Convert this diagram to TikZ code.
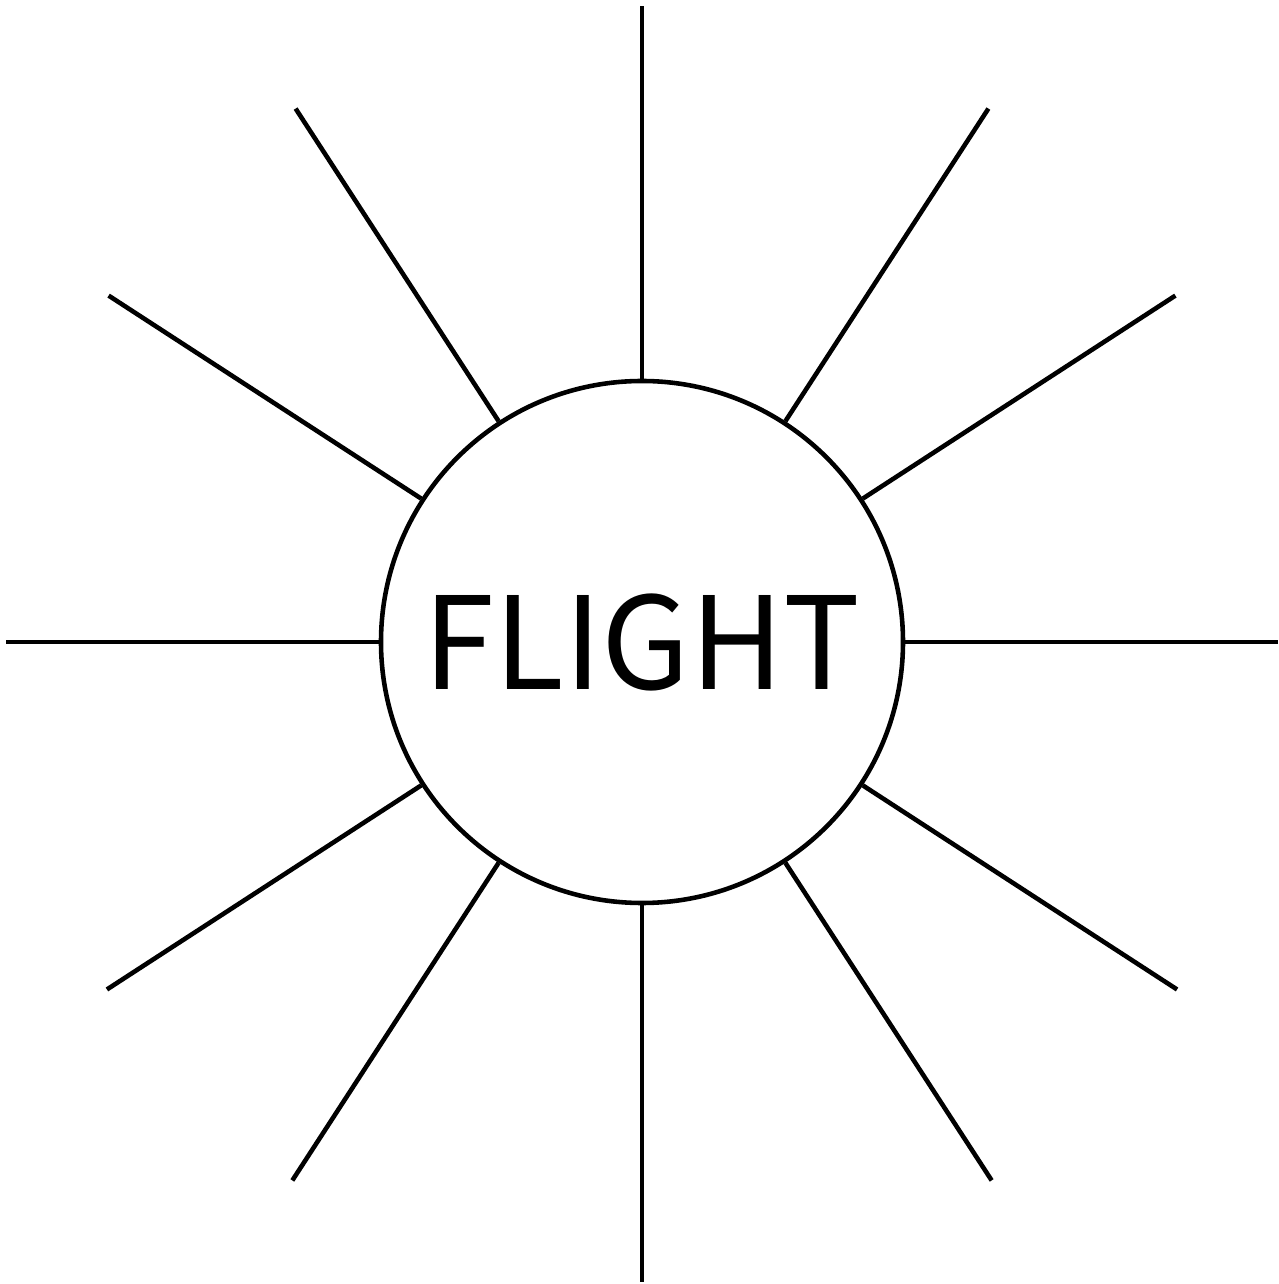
\documentclass[tikz,border=0pt]{standalone}
\usepackage{fontspec}
\newfontfamily\gothic{Noto Sans CJK JP}
\usetikzlibrary{positioning, calc}

\begin{document}
\begin{tikzpicture}[
        hub/.style={circle, draw=black, line width=1.3pt, minimum size=5.22cm,
                    inner sep=0pt, font=\gothic\fontsize{36.5}{42}\selectfont},
        ray/.style={line width=1.3pt, black}
      ]
        \useasboundingbox (0,0) rectangle (12.79,12.84);
        \node[hub] (hub) at (6.42,6.42) {FLIGHT};

        \coordinate (e0)   at ($(hub.center)+(0:6.36)$);
        \coordinate (e33)  at ($(hub.center)+(33:6.36)$);
        \coordinate (e57)  at ($(hub.center)+(57:6.36)$);
        \coordinate (e90)  at ($(hub.center)+(90:6.36)$);
        \coordinate (e123) at ($(hub.center)+(123:6.36)$);
        \coordinate (e147) at ($(hub.center)+(147:6.36)$);
        \coordinate (e180) at ($(hub.center)+(180:6.36)$);
        \coordinate (e213) at ($(hub.center)+(213:6.38)$);
        \coordinate (e237) at ($(hub.center)+(237:6.42)$);
        \coordinate (e270) at ($(hub.center)+(270:6.40)$);
        \coordinate (e303) at ($(hub.center)+(303:6.42)$);
        \coordinate (e327) at ($(hub.center)+(327:6.38)$);

        \draw[ray] (hub.0)   -- (e0);
        \draw[ray] (hub.33)  -- (e33);
        \draw[ray] (hub.57)  -- (e57);
        \draw[ray] (hub.90)  -- (e90);
        \draw[ray] (hub.123) -- (e123);
        \draw[ray] (hub.147) -- (e147);
        \draw[ray] (hub.180) -- (e180);
        \draw[ray] (hub.213) -- (e213);
        \draw[ray] (hub.237) -- (e237);
        \draw[ray] (hub.270) -- (e270);
        \draw[ray] (hub.303) -- (e303);
        \draw[ray] (hub.327) -- (e327);
      \end{tikzpicture}
\end{document}
